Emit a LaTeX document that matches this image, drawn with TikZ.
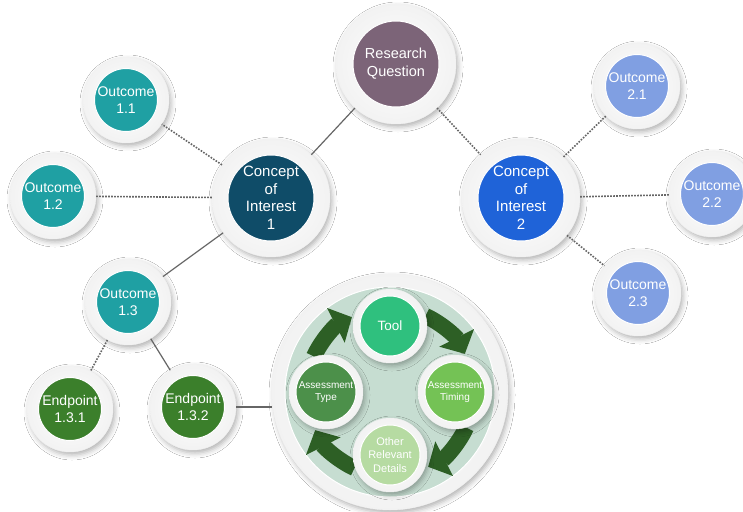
\documentclass[tikz,border=0pt]{standalone}
\usepackage{fontspec}
\setmainfont{Liberation Sans}
\usetikzlibrary{shadows.blur,arrows.meta,calc}
\definecolor{rqcol}{HTML}{7C6478}
\definecolor{conea}{HTML}{0F4C68}
\definecolor{coneb}{HTML}{1F63D8}
\definecolor{outa}{HTML}{1FA0A3}
\definecolor{outb}{HTML}{809FE2}
\definecolor{endcol}{HTML}{3B7F2B}
\definecolor{toolcol}{HTML}{2FC07E}
\definecolor{typecol}{HTML}{4C904A}
\definecolor{timecol}{HTML}{74C255}
\definecolor{othercol}{HTML}{B6DBA2}
\definecolor{bigfill}{HTML}{C6DDD1}
\definecolor{arrowcol}{HTML}{2D5F25}
\definecolor{linecol}{HTML}{666666}
\tikzset{
  ringsty/.style={circle, inner sep=0pt, minimum size=#1, inner color=white, outer color=gray!10,
    draw=gray!10, line width=0.4pt,
    blur shadow={shadow xshift=2pt, shadow yshift=-3pt, shadow blur radius=5pt, shadow opacity=30}},
  coresty/.style={circle, inner sep=0pt, minimum size=#1, draw=white, line width=1pt, text=white, align=center},
  solidln/.style={draw=linecol, line width=1.2pt},
  dotln/.style={draw=linecol, line width=1.6pt, dash pattern=on 1.6pt off 1.4pt},
  cycarrow/.style={draw=arrowcol, line width=16pt, -{Triangle[length=18pt,width=38pt]}},
}
\newcommand{\fsRQ}{\fontsize{14.5}{18}\selectfont}
\newcommand{\fsCon}{\fontsize{15}{17.5}\selectfont}
\newcommand{\fsOut}{\fontsize{14}{17.5}\selectfont}
\newcommand{\fsTool}{\fontsize{13.5}{15}\selectfont}
\newcommand{\fsSmall}{\fontsize{10}{11.5}\selectfont}
\newcommand{\fsOther}{\fontsize{11}{13.5}\selectfont}
% name, position, ring size, core size, colour, font, text
\newcommand{\mybubble}[7]{%
  \node[ringsty=#3] (#1) at (#2) {};
  \node[coresty=#4, fill=#5, font=#6] (#1-in) at (#2) {#7};
}
\begin{document}
\begin{tikzpicture}[x=1pt,y=1pt]
\useasboundingbox (0,0) rectangle (743,-511);
\fill[white] (0,0) rectangle (743,-511);

% main nodes
\mybubble{rq}{396,-64}{120pt}{86pt}{rqcol}{\fsRQ}{Research\\Question}
\mybubble{c1}{271,-198}{118pt}{86pt}{conea}{\fsCon}{Concept\\of\\Interest\\1}
\mybubble{c2}{521,-198}{118pt}{86pt}{coneb}{\fsCon}{Concept\\of\\Interest\\2}
\mybubble{o11}{126,-100}{86pt}{62pt}{outa}{\fsOut}{Outcome\\1.1}
\mybubble{o12}{53,-196}{86pt}{62pt}{outa}{\fsOut}{Outcome\\1.2}
\mybubble{o13}{128,-302}{86pt}{62pt}{outa}{\fsOut}{Outcome\\1.3}
\mybubble{e1}{70,-409}{86pt}{63pt}{endcol}{\fsOut}{Endpoint\\1.3.1}
\mybubble{e2}{193,-407}{86pt}{63pt}{endcol}{\fsOut}{Endpoint\\1.3.2}
\mybubble{o21}{637,-86}{86pt}{62pt}{outb}{\fsOut}{Outcome\\2.1}
\mybubble{o22}{712,-194}{86pt}{62pt}{outb}{\fsOut}{Outcome\\2.2}
\mybubble{o23}{638,-293}{86pt}{62pt}{outb}{\fsOut}{Outcome\\2.3}

% big cycle circle
\coordinate (cyc) at (390,-392);
\node[ringsty=236pt] (big) at (cyc) {};
\node[circle, inner sep=0pt, minimum size=210pt, fill=bigfill, draw=white, line width=1pt] (bigin) at (cyc) {};

% cycle arrows
\draw[cycarrow] ($(cyc)+(155:84)$) arc[start angle=155, end angle=117, radius=84pt];
\draw[cycarrow] ($(cyc)+(65:84)$) arc[start angle=65, end angle=27, radius=84pt];
\draw[cycarrow] ($(cyc)+(-25:84)$) arc[start angle=-25, end angle=-63, radius=84pt];
\draw[cycarrow] ($(cyc)+(-115:84)$) arc[start angle=-115, end angle=-153, radius=84pt];

% cycle nodes
\mybubble{tool}{$(cyc)+(90:66)$}{74pt}{60pt}{toolcol}{\fsTool}{Tool}
\mybubble{timing}{$(cyc)+(0:65)$}{74pt}{60pt}{timecol}{\fsSmall}{Assessment\\Timing}
\mybubble{other}{$(cyc)+(-90:63)$}{74pt}{60pt}{othercol}{\fsOther}{Other\\Relevant\\Details}
\mybubble{atype}{$(cyc)+(180:64)$}{74pt}{60pt}{typecol}{\fsSmall}{Assessment\\Type}

% connectors
\draw[solidln] (rq) -- (c1);
\draw[dotln] (rq) -- (c2);
\draw[dotln] (c1) -- (o11);
\draw[dotln] (c1) -- (o12);
\draw[solidln] (c1) -- (o13);
\draw[dotln] (o13) -- (e1);
\draw[solidln] (o13) -- (e2);
\draw[solidln] (e2.east) -- (e2.east -| big.west);
\draw[dotln] (c2) -- (o21);
\draw[dotln] (c2) -- (o22);
\draw[dotln] (c2) -- (o23);
\end{tikzpicture}
\end{document}
